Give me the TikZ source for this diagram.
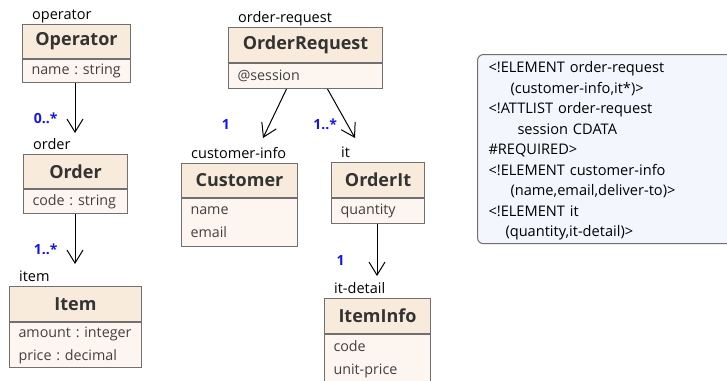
\documentclass[tikz,border=0pt]{standalone}
\usepackage{fontspec}
\setmainfont{Open Sans}
\usetikzlibrary{arrows.meta,positioning}
\definecolor{boxline}{HTML}{707070}
\definecolor{headfill}{HTML}{F8EBDB}
\definecolor{attrfill}{HTML}{FDF6F0}
\definecolor{titletext}{HTML}{333333}
\definecolor{multblue}{HTML}{1414F0}
\definecolor{dtdfill}{HTML}{F3F6FC}
\frenchspacing

\begin{document}
\begin{tikzpicture}[x=1pt, y=-1pt,
  head/.style={draw=boxline, line width=1pt, fill=headfill, anchor=north west, minimum height=34pt, inner sep=0pt,
    text=titletext, font=\fontsize{18}{20}\selectfont\bfseries},
  attrs/.style={draw=boxline, line width=1pt, fill=attrfill, anchor=north west, align=left, inner xsep=9pt, inner ysep=0pt,
    text=black!75, font=\fontsize{14.3}{23}\selectfont},
  role/.style={anchor=base west, inner sep=0pt, font=\fontsize{14.5}{16}\selectfont},
  mult/.style={text=multblue, inner sep=1pt, font=\fontsize{14}{16}\selectfont\bfseries},
  assoc/.style={line width=1pt, -{Straight Barb[length=13pt,width=16pt,line width=1pt]}},
  dtd/.style={draw=boxline, line width=1pt, fill=dtdfill, rounded corners=6pt, anchor=north west, align=left,
    inner xsep=11pt, font=\fontsize{14.6}{20.5}\selectfont},
]
\useasboundingbox (0,0) rectangle (727,380);

% left column
\node[head, minimum width=108pt] (operator) at (22,24) {Operator};
\node[attrs, text width=90pt, minimum height=23pt] (operatorA) at (operator.south west) {name : string};
\node[head, minimum width=104pt] (order) at (23,154) {Order};
\node[attrs, text width=86pt, minimum height=24pt] (orderA) at (order.south west) {code : string};
\node[head, minimum width=132pt, minimum height=35pt] (item) at (9,286) {Item};
\node[attrs, text width=114pt, minimum height=45pt] (itemA) at (item.south west) {amount : integer\\price : decimal};

% order request tree
\node[head, minimum width=154pt, minimum height=35pt] (request) at (228,27) {OrderRequest};
\node[attrs, text width=136pt, minimum height=25pt] (requestA) at (request.south west) {@session};
\node[head, minimum width=116pt] (customer) at (181,163) {Customer};
\node[attrs, text width=98pt, minimum height=48pt] (customerA) at (customer.south west) {name\\email};
\node[head, minimum width=93pt, minimum height=35pt] (orderit) at (331,162) {OrderIt};
\node[attrs, text width=75pt, minimum height=25pt] (orderitA) at (orderit.south west) {quantity};
\node[head, minimum width=106pt, minimum height=35pt] (iteminfo) at (324,298) {ItemInfo};
\node[attrs, text width=88pt, minimum height=49pt] (iteminfoA) at (iteminfo.south west) {code\\unit-price};

\foreach \cls/\txt in {operator/operator, order/order, item/item, request/order-request,
    customer/customer-info, orderit/it, iteminfo/it-detail}
  \node[role] (\cls R) at ([xshift=10pt,yshift=5pt]\cls.north west) {\txt};

\coordinate (orderIn) at (75,133);
\coordinate (itemIn) at (75,264);
\coordinate (customerIn) at (263,138);
\coordinate (orderitIn) at (355,138);
\coordinate (iteminfoIn) at (377,276);

\path[assoc]
  (operatorA.south -| orderIn) edge node[mult, pos=0.7, left=16pt] {0..*} (orderIn)
  (orderA.south -| itemIn) edge node[mult, pos=0.7, left=16pt] {1..*} (itemIn)
  ([xshift=-19pt]requestA.south) edge node[mult, pos=0.73, left=38pt] {1} (customerIn)
  ([xshift=22pt]requestA.south) edge node[mult, pos=0.73, left=9pt] {1..*} (orderitIn)
  (orderitA.south -| iteminfoIn) edge node[mult, pos=0.7, left=31pt] {1} (iteminfoIn);

\node[dtd, text width=240pt, minimum height=185pt] (dtd) at (477,54) {%
\rule{0pt}{15pt}<!ELEMENT order-request\\
\hspace*{22pt}(customer-info,it*)>\\
<!ATTLIST order-request\\
\hspace*{29pt}session CDATA\\
\#REQUIRED>\\
<!ELEMENT customer-info\\
\hspace*{22pt}(name,email,deliver-to)>\\
<!ELEMENT it\\
\hspace*{17pt}(quantity,it-detail)>};
\end{tikzpicture}
\end{document}
